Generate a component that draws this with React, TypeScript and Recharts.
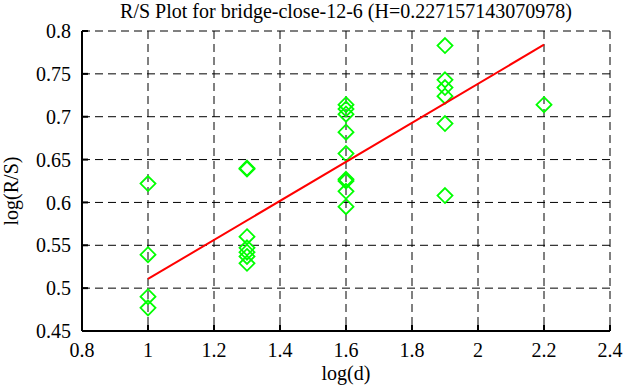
import React from "react";
import {
  CartesianGrid,
  Label,
  Scatter,
  ScatterChart,
  XAxis,
  YAxis,
} from "recharts";

const title = "R/S Plot for bridge-close-12-6 (H=0.227157143070978)";

const xTicks = [0.8, 1, 1.2, 1.4, 1.6, 1.8, 2, 2.2, 2.4];
const yTicks = [0.45, 0.5, 0.55, 0.6, 0.65, 0.7, 0.75, 0.8];

// observed points, log(d) paired with log(R/S)
const logD = [
  1, 1, 1, 1,
  1.3, 1.3, 1.3, 1.3, 1.3, 1.3, 1.3,
  1.6, 1.6, 1.6, 1.6, 1.6, 1.6, 1.6, 1.6, 1.6,
  1.9, 1.9, 1.9, 1.9, 1.9, 1.9,
  2.2,
];
const logRS = [
  0.622, 0.539, 0.49, 0.477,
  0.639, 0.64, 0.56, 0.547, 0.542, 0.537, 0.529,
  0.714, 0.709, 0.703, 0.682, 0.657, 0.627, 0.625, 0.613, 0.595,
  0.783, 0.743, 0.734, 0.724, 0.692, 0.608,
  0.714,
];

// fitted line end points
const fitX = [1, 2.2];
const fitY = [0.5107, 0.784];

const points = logD.map((x, i) => ({ x, y: logRS[i] }));
const fit = fitX.map((x, i) => ({ x, y: fitY[i] }));

const FONT = "Liberation Serif";
const FS = 20;
const PLOT_LEFT = 82;
const PLOT_RIGHT = 610;
const PLOT_TOP = 31;
const PLOT_BOTTOM = 331;
const TICK = 6;

const textStyle = { fontFamily: FONT, fontSize: FS, fill: "#000" };

const Diamond = (props: any) => {
  const { cx, cy } = props;
  const r = 7.5;
  return (
    <polygon
      points={`${cx},${cy - r} ${cx + r},${cy} ${cx},${cy + r} ${cx - r},${cy}`}
      fill="none"
      stroke="#00ff00"
      strokeWidth={1.8}
    />
  );
};

const bottomTick = (props: any) => {
  const { x, payload } = props;
  return (
    <g>
      <line x1={x} y1={PLOT_BOTTOM} x2={x} y2={PLOT_BOTTOM - TICK} stroke="#000" strokeWidth={2} />
      <text x={x} y={357} textAnchor="middle" style={textStyle}>
        {payload.value}
      </text>
    </g>
  );
};

const topTick = (props: any) => {
  const { x } = props;
  return <line x1={x} y1={PLOT_TOP} x2={x} y2={PLOT_TOP + TICK} stroke="#000" strokeWidth={2} />;
};

const leftTick = (props: any) => {
  const { y, payload } = props;
  return (
    <g>
      <line x1={PLOT_LEFT} y1={y} x2={PLOT_LEFT + TICK} y2={y} stroke="#000" strokeWidth={2} />
      <text x={71} y={y} dy="0.36em" textAnchor="end" style={textStyle}>
        {payload.value}
      </text>
    </g>
  );
};

const rightTick = (props: any) => {
  const { y } = props;
  return <line x1={PLOT_RIGHT} y1={y} x2={PLOT_RIGHT - TICK} y2={y} stroke="#000" strokeWidth={2} />;
};

export default function App() {
  return (
    <div
      style={{
        position: "absolute",
        left: 0,
        top: 0,
        width: 626,
        height: 387,
        background: "#fff",
        fontFamily: FONT,
      }}
    >
      <div
        style={{
          position: "absolute",
          left: PLOT_LEFT,
          width: PLOT_RIGHT - PLOT_LEFT,
          top: 0,
          textAlign: "center",
          fontSize: FS,
          lineHeight: "22px",
          color: "#000",
          whiteSpace: "nowrap",
        }}
      >
        {title}
      </div>
      <ScatterChart
        width={626}
        height={387}
        margin={{ top: PLOT_TOP, right: 626 - PLOT_RIGHT, bottom: 0, left: 0 }}
      >
        <CartesianGrid stroke="#000" strokeDasharray="8 5" strokeWidth={1} />
        <XAxis
          type="number"
          dataKey="x"
          domain={[0.8, 2.4]}
          ticks={xTicks}
          height={387 - PLOT_BOTTOM}
          axisLine={{ stroke: "#000", strokeWidth: 2 }}
          tickLine={false}
          tick={bottomTick}
          interval={0}
        >
          <Label
            content={() => (
              <text x={(PLOT_LEFT + PLOT_RIGHT) / 2} y={380} textAnchor="middle" style={textStyle}>
                log(d)
              </text>
            )}
          />
        </XAxis>
        <XAxis
          xAxisId="top"
          orientation="top"
          type="number"
          dataKey="x"
          domain={[0.8, 2.4]}
          ticks={xTicks}
          height={0}
          axisLine={{ stroke: "#000", strokeWidth: 2 }}
          tickLine={false}
          tick={topTick}
          interval={0}
        />
        <YAxis
          type="number"
          dataKey="y"
          domain={[0.45, 0.8]}
          ticks={yTicks}
          width={PLOT_LEFT}
          axisLine={{ stroke: "#000", strokeWidth: 2 }}
          tickLine={false}
          tick={leftTick}
          interval={0}
        >
          <Label
            content={() => (
              <text
                x={0}
                y={0}
                transform="translate(18, 191) rotate(-90)"
                textAnchor="middle"
                style={textStyle}
              >
                log(R/S)
              </text>
            )}
          />
        </YAxis>
        <YAxis
          yAxisId="right"
          orientation="right"
          type="number"
          dataKey="y"
          domain={[0.45, 0.8]}
          ticks={yTicks}
          width={0}
          axisLine={{ stroke: "#000", strokeWidth: 2 }}
          tickLine={false}
          tick={rightTick}
          interval={0}
        />
        <Scatter data={points} shape={<Diamond />} isAnimationActive={false} />
        <Scatter
          data={fit}
          line={{ stroke: "#ff0000", strokeWidth: 2 }}
          shape={() => <g />}
          isAnimationActive={false}
        />
      </ScatterChart>
    </div>
  );
}
